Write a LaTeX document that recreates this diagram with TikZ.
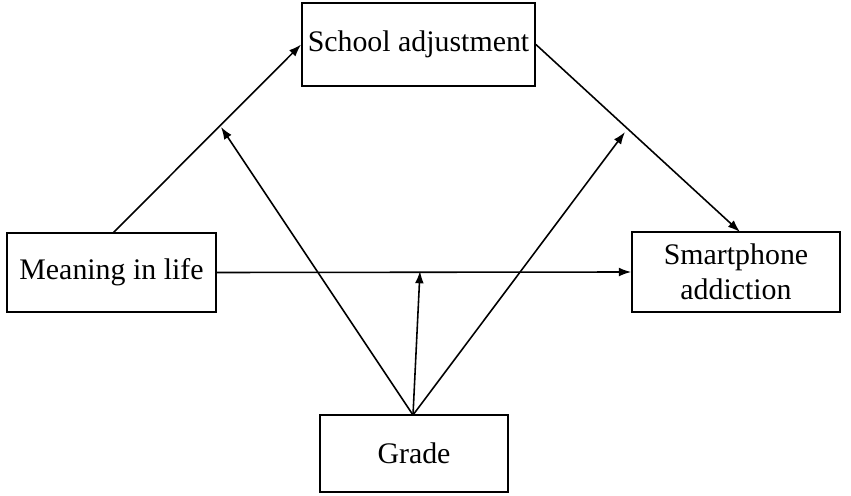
\documentclass[tikz,border=0pt]{standalone}
\usepackage{fontspec}
\setmainfont{Liberation Serif}
\usetikzlibrary{arrows.meta}

\begin{document}
\begin{tikzpicture}[x=0.02cm, y=-0.02cm, >={Latex[length=7pt,width=5pt]}, line width=0.9pt]

    % style
    \tikzset{varbox/.style={draw=black, line width=0.9pt, rectangle, align=center, font=\fontsize{17}{20}\selectfont}}

    % background box for entire figure
    \path [use as bounding box] (0,0) rectangle (851,496);

    % variables
    \node [varbox, minimum width=233*0.02cm, minimum height=83*0.02cm] (School) at (418.5,44.5) {School adjustment};
    \node [varbox, minimum width=209*0.02cm, minimum height=79*0.02cm] (Meaning) at (111.5,272.5) {Meaning in life};
    \node [varbox, minimum width=208*0.02cm, minimum height=80*0.02cm] (Phone) at (736,272) {Smartphone\\addiction};
    \node [varbox, minimum width=188*0.02cm, minimum height=77*0.02cm] (Grade) at (414,453.5) {Grade};

    % reference coordinates
    \coordinate (GradeTop) at (413,415);
    \coordinate (OnA) at (221,127);
    \coordinate (OnB) at (625,132);
    \coordinate (OnC) at (420,271);

    % paths
    \draw [->] (113,233) -- (School.west);
    \draw [->] (School.east) -- (740,232);
    \draw [->] (Meaning.east) -- (Phone.west);

    % moderation by grade
    \draw [->] (GradeTop) -- (OnA);
    \draw [->] (GradeTop) -- (OnB);
    \draw [->] (GradeTop) -- (OnC);

\end{tikzpicture}
\end{document}
